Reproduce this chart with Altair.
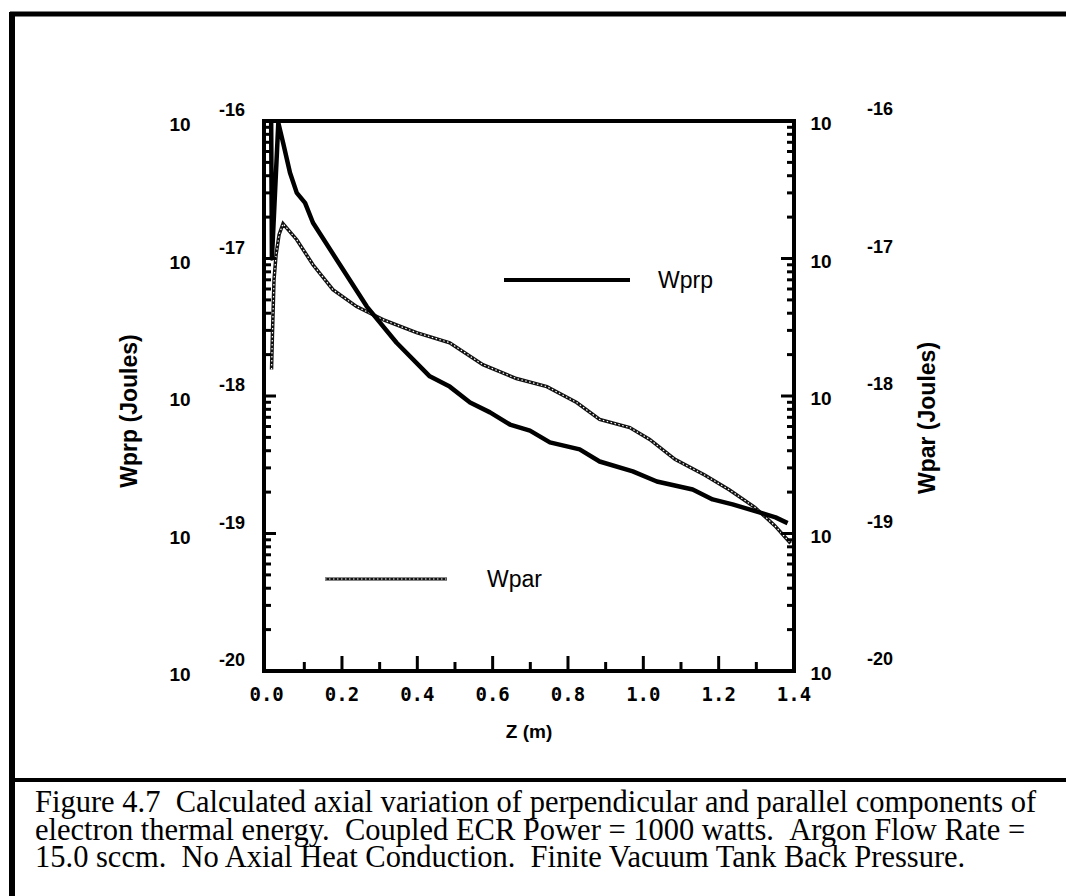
import altair as alt
import pandas as pd

# ---------------- data ----------------
z_wprp = [0.012, 0.014, 0.031, 0.044, 0.062, 0.080, 0.102, 0.123, 0.186, 0.266, 0.345,
          0.433, 0.486, 0.540, 0.593, 0.646, 0.699, 0.752, 0.831, 0.884, 0.972, 1.036,
          1.131, 1.184, 1.237, 1.317, 1.351, 1.383]
wprp = [1.0e-16, 1.0e-17, 9.7e-17, 6.9e-17, 4.2e-17, 3.0e-17, 2.54e-17, 1.82e-17, 9.8e-18,
        4.47e-18, 2.44e-18, 1.39e-18, 1.17e-18, 8.97e-19, 7.6e-19, 6.2e-19, 5.6e-19, 4.6e-19,
        4.09e-19, 3.34e-19, 2.83e-19, 2.39e-19, 2.09e-19, 1.77e-19, 1.63e-19, 1.40e-19,
        1.31e-19, 1.19e-19]

z_wpar = [0.013, 0.0157, 0.0196, 0.025, 0.033, 0.0435, 0.053, 0.080, 0.123, 0.176, 0.239,
          0.309, 0.398, 0.486, 0.574, 0.663, 0.744, 0.823, 0.884, 0.964, 1.017, 1.084,
          1.164, 1.229, 1.296, 1.349, 1.391]
wpar = [1.56e-18, 3.0e-18, 7.0e-18, 1.06e-17, 1.49e-17, 1.79e-17, 1.67e-17, 1.37e-17, 9.0e-18,
        5.93e-18, 4.47e-18, 3.59e-18, 2.89e-18, 2.44e-18, 1.69e-18, 1.34e-18, 1.17e-18,
        8.97e-19, 6.75e-19, 5.9e-19, 4.83e-19, 3.46e-19, 2.65e-19, 2.07e-19, 1.55e-19,
        1.14e-19, 8.5e-20]

series_names = ["Wprp", "Wpar"]
y_title_left = "Wprp (Joules)"
y_title_right = "Wpar (Joules)"
x_title = "Z (m)"

y_decades = [1e-16, 1e-17, 1e-18, 1e-19, 1e-20]
y_exponents = ["-16", "-17", "-18", "-19", "-20"]
y_minor = [k * d for d in [1e-20, 1e-19, 1e-18, 1e-17] for k in range(2, 10)]
x_major = [0.0, 0.2, 0.4, 0.6, 0.8, 1.0, 1.2, 1.4]
x_labels = ["0.0", "0.2", "0.4", "0.6", "0.8", "1.0", "1.2", "1.4"]
x_minor = [0.1, 0.3, 0.5, 0.7, 0.9, 1.1, 1.3]

caption = [
    "Figure 4.7 \u00a0Calculated axial variation of perpendicular and parallel components of",
    "electron thermal energy. \u00a0Coupled ECR Power = 1000 watts. \u00a0Argon Flow Rate =",
    "15.0 sccm. \u00a0No Axial Heat Conduction. \u00a0Finite Vacuum Tank Back Pressure.",
]

# ---------------- frames ----------------
W, H = 530, 550
xs = alt.Scale(domain=[-0.007, 1.4], nice=False, zero=False)
ys = alt.Scale(type="log", domain=[1e-20, 1e-16], nice=False)

df_prp = pd.DataFrame({"z": z_wprp, "w": wprp, "o": range(len(z_wprp))})
df_par = pd.DataFrame({"z": z_wpar, "w": wpar, "o": range(len(z_wpar))})
df_dec = pd.DataFrame({"v": y_decades, "e": y_exponents, "ten": ["10"] * len(y_decades)})
df_ymin = pd.DataFrame({"v": y_minor})
df_xmaj = pd.DataFrame({"v": x_major, "t": x_labels})
df_xmin = pd.DataFrame({"v": x_minor})
one = pd.DataFrame({"a": [0]})

X = lambda f: alt.X(f, type="quantitative", scale=xs, axis=None)
Y = lambda f: alt.Y(f, type="quantitative", scale=ys, axis=None)

line_prp = alt.Chart(df_prp).mark_line(color="black", strokeWidth=4.5, strokeJoin="round").encode(
    x=X("z"), y=Y("w"), order="o:Q")
line_par_a = alt.Chart(df_par).mark_line(color="#111", strokeWidth=3.5).encode(
    x=X("z"), y=Y("w"), order="o:Q")
line_par_b = alt.Chart(df_par).mark_line(color="white", strokeWidth=1.2, strokeDash=[1.5, 2.5]).encode(
    x=X("z"), y=Y("w"), order="o:Q")

# ticks (inward)
tick_l_maj = alt.Chart(df_dec).mark_rule(color="black", strokeWidth=3).encode(
    y=Y("v"), x=alt.value(0), x2=alt.value(12))
tick_l_min = alt.Chart(df_ymin).mark_rule(color="black", strokeWidth=3).encode(
    y=Y("v"), x=alt.value(0), x2=alt.value(7))
tick_r_maj = alt.Chart(df_dec).mark_rule(color="black", strokeWidth=3).encode(
    y=Y("v"), x=alt.value(W), x2=alt.value(W - 13))
tick_r_min = alt.Chart(df_ymin).mark_rule(color="black", strokeWidth=3).encode(
    y=Y("v"), x=alt.value(W), x2=alt.value(W - 7))
tick_b_maj = alt.Chart(df_xmaj[df_xmaj.v > 0]).mark_rule(color="black", strokeWidth=3).encode(
    x=X("v"), y=alt.value(H), y2=alt.value(H - 15))
tick_b_min = alt.Chart(df_xmin).mark_rule(color="black", strokeWidth=3).encode(
    x=X("v"), y=alt.value(H), y2=alt.value(H - 9))

lab_font = "Liberation Sans"
ten_l = alt.Chart(df_dec).mark_text(font=lab_font, fontWeight="bold", fontSize=19, align="center",
                                     baseline="middle", dy=4).encode(
    y=Y("v"), x=alt.value(-84), text="ten:N")
exp_l = alt.Chart(df_dec).mark_text(font=lab_font, fontWeight="bold", fontSize=18, align="center",
                                     baseline="middle", dy=-10).encode(
    y=Y("v"), x=alt.value(-32), text="e:N")
ten_r = alt.Chart(df_dec).mark_text(font=lab_font, fontWeight="bold", fontSize=19, align="center",
                                     baseline="middle", dy=3).encode(
    y=Y("v"), x=alt.value(557), text="ten:N")
exp_r = alt.Chart(df_dec).mark_text(font=lab_font, fontWeight="bold", fontSize=18, align="center",
                                     baseline="middle", dy=-11).encode(
    y=Y("v"), x=alt.value(616), text="e:N")
xlab = alt.Chart(df_xmaj).mark_text(font="DejaVu Sans Mono", fontWeight="bold", fontSize=19,
                                     align="center", baseline="middle").encode(
    x=X("v"), y=alt.value(574), text="t:N")

xt = alt.Chart(one).mark_text(text=x_title, font=lab_font, fontWeight="bold", fontSize=19,
                              align="center", baseline="middle").encode(
    x=alt.value(W / 2), y=alt.value(611))
ytl = alt.Chart(one).mark_text(text=y_title_left, font=lab_font, fontWeight="bold", fontSize=23,
                               align="center", baseline="middle", angle=270).encode(
    x=alt.value(-134), y=alt.value(290))
ytr = alt.Chart(one).mark_text(text=y_title_right, font=lab_font, fontWeight="bold", fontSize=23,
                               align="center", baseline="middle", angle=270).encode(
    x=alt.value(664), y=alt.value(297))

# in-plot legend
leg_prp = alt.Chart(one).mark_rule(color="black", strokeWidth=4).encode(
    x=alt.value(240), x2=alt.value(366), y=alt.value(159))
leg_prp_t = alt.Chart(one).mark_text(text=series_names[0], font=lab_font, fontSize=23,
                                     align="left", baseline="middle").encode(
    x=alt.value(394), y=alt.value(160))
leg_par_a = alt.Chart(one).mark_rule(color="#111", strokeWidth=3).encode(
    x=alt.value(61), x2=alt.value(183), y=alt.value(458))
leg_par_b = alt.Chart(one).mark_rule(color="white", strokeWidth=1, strokeDash=[1.5, 2.5]).encode(
    x=alt.value(61), x2=alt.value(183), y=alt.value(458))
leg_par_t = alt.Chart(one).mark_text(text=series_names[1], font=lab_font, fontSize=23,
                                     align="left", baseline="middle").encode(
    x=alt.value(223), y=alt.value(459))

# page border and caption box
border_top = alt.Chart(one).mark_rule(color="black", strokeWidth=5).encode(
    x=alt.value(-254), x2=alt.value(820), y=alt.value(-107))
border_left = alt.Chart(one).mark_rule(color="black", strokeWidth=6).encode(
    x=alt.value(-252), y=alt.value(-109), y2=alt.value(800))
separator = alt.Chart(one).mark_rule(color="black", strokeWidth=4).encode(
    x=alt.value(-254), x2=alt.value(820), y=alt.value(659))

cap_layers = []
for i, line in enumerate(caption):
    cap_layers.append(
        alt.Chart(one).mark_text(text=line, font="Liberation Serif", fontSize=30.5, align="left",
                                 baseline="alphabetic").encode(
            x=alt.value(-229), y=alt.value(691 + 27.5 * i)))

chart = alt.layer(
    line_par_a, line_par_b, line_prp,
    tick_l_maj, tick_l_min, tick_r_maj, tick_r_min, tick_b_maj, tick_b_min,
    ten_l, exp_l, ten_r, exp_r, xlab, xt, ytl, ytr,
    leg_prp, leg_prp_t, leg_par_a, leg_par_b, leg_par_t,
    border_top, border_left, separator, *cap_layers
).properties(
    width=W, height=H,
    autosize=alt.AutoSizeParams(type="none"),
    padding={"left": 264, "top": 121, "right": 1066 - 264 - W, "bottom": 896 - 121 - H},
    background="white",
).configure_view(stroke="black", strokeWidth=4)

chart.save("out.html", embed_options={"renderer": "svg", "actions": False})
